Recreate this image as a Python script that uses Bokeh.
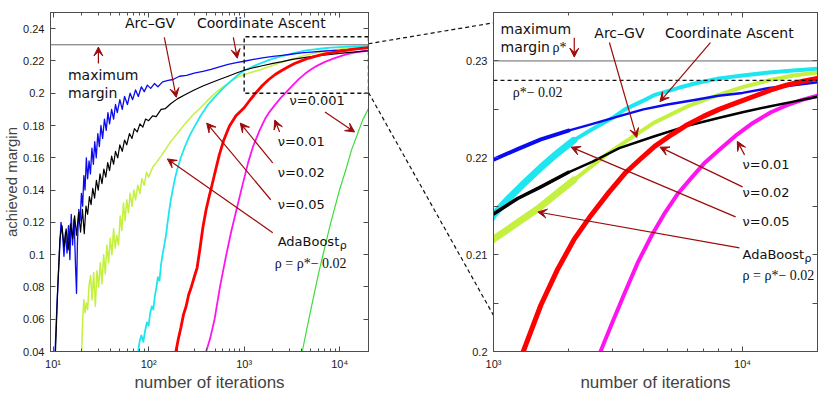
from bokeh.plotting import figure
from bokeh.layouts import row
from bokeh.models import (Range1d, LogAxis, LinearAxis, FixedTicker, CustomJSTickFormatter,
                          Arrow, VeeHead, Label, Span)
from bokeh.embed import file_html
from bokeh.resources import INLINE

# ---------------- data (iterations, achieved margin) ----------------
blue_n = [10.5, 11.0, 11.6, 12.1, 12.6, 13.0, 13.5, 14.0, 14.5, 15.0, 15.5, 16.0, 16.6, 17.2, 17.6,
          18.0, 18.6, 19.2, 19.8, 20.4, 21.0, 21.6, 22.3, 23.0, 23.8, 24.6, 25.5, 26.4, 27.3, 28.3,
          29.4, 30.5, 31.7, 33.0, 34.5, 36.0, 37.5, 39.0, 41, 43, 45, 47, 50, 53, 56, 60, 64, 68,
          73, 78, 84, 90, 97, 105, 115, 125, 140, 160, 180, 210, 250, 300, 370, 450, 550, 680, 830,
          1000, 1250, 1550, 2000, 2500, 3200, 4000, 5000, 6500, 8000, 10000, 12800, 16000, 20000]
blue_m = [0.040, 0.070, 0.098, 0.120, 0.112, 0.099, 0.114, 0.101, 0.118, 0.097, 0.125, 0.106, 0.122,
          0.092, 0.076, 0.108, 0.128, 0.121, 0.138, 0.130, 0.149, 0.140, 0.160, 0.147, 0.158, 0.150,
          0.166, 0.156, 0.170, 0.160, 0.175, 0.167, 0.180, 0.172, 0.184, 0.177, 0.188, 0.181, 0.190,
          0.184, 0.193, 0.188, 0.196, 0.190, 0.198, 0.193, 0.200, 0.196, 0.202, 0.198, 0.204, 0.201,
          0.205, 0.203, 0.206, 0.204, 0.207, 0.208, 0.2085, 0.2105, 0.211, 0.2125, 0.2135, 0.2148,
          0.2163, 0.2178, 0.2190, 0.2198, 0.2209, 0.2219, 0.2228, 0.2235, 0.2243, 0.2250, 0.2255,
          0.2260, 0.2264, 0.2267, 0.2272, 0.2275, 0.2278]

black_n = [10.6, 11.2, 11.8, 12.4, 13.0, 13.7, 14.4, 15.2, 16.0, 16.8, 17.6, 18.5, 19.4, 20.3, 21.2,
           22.1, 23.0, 24.0, 25.0, 26.0, 27.2, 28.4, 29.7, 31.0, 32.5, 34.0, 35.6, 37.3, 39, 41, 43,
           45, 47.5, 50, 53, 56, 59, 63, 67, 71, 76, 81, 87, 93, 100, 110, 120, 135, 150, 170, 200,
           240, 300, 370, 450, 550, 680, 830, 1000, 1250, 1550, 2000, 2500, 3200, 4400, 6000, 8000,
           10000, 12800, 16000, 20000]
black_m = [0.040, 0.080, 0.110, 0.118, 0.105, 0.116, 0.103, 0.119, 0.110, 0.124, 0.112, 0.126, 0.114,
           0.128, 0.113, 0.130, 0.125, 0.136, 0.131, 0.141, 0.135, 0.146, 0.140, 0.150, 0.144, 0.153,
           0.148, 0.157, 0.152, 0.161, 0.156, 0.164, 0.160, 0.168, 0.164, 0.171, 0.168, 0.175, 0.172,
           0.178, 0.176, 0.181, 0.179, 0.184, 0.183, 0.186, 0.1855, 0.190, 0.1905, 0.1935, 0.1965,
           0.1990, 0.2020, 0.2045, 0.2065, 0.2085, 0.2105, 0.2125, 0.2142, 0.2158, 0.2170, 0.2185,
           0.2196, 0.2210, 0.2222, 0.2233, 0.2241, 0.2247, 0.2253, 0.2258, 0.2263]

yg_n = [19.9, 20.5, 21.0, 21.6, 22.3, 23.0, 23.8, 24.7, 25.6, 26.6, 27.7, 28.8, 30.0, 31.2, 32.5,
        33.8, 35.2, 36.6, 38.1, 39.7, 41.3, 43.0, 44.7, 46.5, 48.4, 50.4, 52.4, 54.5, 56.7, 59.0,
        61.5, 64, 67, 70, 73, 77, 81, 85, 90, 95, 100, 110, 120, 135, 150, 170, 200, 240, 290, 350,
        430, 530, 650, 800, 1000, 1250, 1500, 2100, 2900, 4400, 6000, 8000, 10000, 12800, 16000, 20000]
yg_m = [0.040, 0.062, 0.072, 0.064, 0.070, 0.066, 0.081, 0.087, 0.072, 0.089, 0.068, 0.090, 0.080,
        0.095, 0.082, 0.100, 0.088, 0.106, 0.095, 0.110, 0.100, 0.116, 0.104, 0.112, 0.106, 0.124,
        0.115, 0.132, 0.121, 0.134, 0.126, 0.138, 0.130, 0.140, 0.134, 0.143, 0.138, 0.147, 0.143,
        0.151, 0.148, 0.154, 0.157, 0.161, 0.165, 0.170, 0.175, 0.181, 0.1865, 0.191, 0.1965, 0.2015,
        0.2055, 0.2090, 0.2116, 0.2133, 0.2147, 0.2177, 0.2205, 0.2236, 0.2253, 0.2265, 0.2273,
        0.2280, 0.2285, 0.2288]

cyan_n = [77.6, 81, 84, 88, 92, 96, 100, 104, 108, 112, 116, 120, 125, 130, 135, 140, 146, 152, 158,
          164, 171, 180, 190, 200, 217, 240, 270, 300, 350, 420, 500, 600, 711, 850, 1000, 1150, 1330,
          1550, 1810, 2100, 2470, 3000, 3370, 4000, 4450, 5500, 6500, 8050, 10000, 12800, 16000, 20000]
cyan_m = [0.040, 0.047, 0.050, 0.046, 0.053, 0.058, 0.056, 0.064, 0.068, 0.066, 0.074, 0.079, 0.086,
          0.084, 0.094, 0.100, 0.106, 0.112, 0.120, 0.127, 0.134, 0.141, 0.148, 0.153, 0.160, 0.167,
          0.174, 0.179, 0.186, 0.193, 0.198, 0.203, 0.207, 0.211, 0.2141, 0.2158, 0.2174, 0.2190,
          0.2205, 0.2218, 0.2229, 0.2241, 0.2250, 0.2259, 0.2265, 0.2272, 0.2277, 0.2282, 0.2285,
          0.2288, 0.2290, 0.2292]

red_n = [193, 205, 218, 232, 247, 262, 280, 300, 322, 345, 370, 400, 430, 460, 500, 550, 608, 700,
         820, 1000, 1150, 1330, 1550, 1810, 2110, 2470, 2900, 3370, 3900, 4450, 5200, 5900, 7000,
         8050, 9500, 11000, 13000, 15000, 17500, 20000]
red_m = [0.040, 0.048, 0.055, 0.063, 0.068, 0.075, 0.080, 0.086, 0.092, 0.104, 0.117, 0.128, 0.136,
         0.143, 0.152, 0.162, 0.1705, 0.1795, 0.1860, 0.1910, 0.1958, 0.2003, 0.2048, 0.2085, 0.2116,
         0.2141, 0.2164, 0.2184, 0.2199, 0.2212, 0.2224, 0.2233, 0.2243, 0.2250, 0.2257, 0.2263,
         0.2270, 0.2275, 0.2279, 0.2282]

mag_n = [400, 440, 490, 560, 640, 730, 832, 950, 1100, 1238, 1450, 1650, 1820, 2100, 2400, 2710,
         3000, 3370, 3800, 4320, 4900, 5500, 6270, 7000, 8050, 9500, 11000, 13000, 15000, 17500, 20000]
mag_m = [0.040, 0.048, 0.060, 0.0805, 0.098, 0.114, 0.128, 0.142, 0.157, 0.167, 0.177, 0.184, 0.188,
         0.1928, 0.1970, 0.2002, 0.2030, 0.2061, 0.2092, 0.2120, 0.2144, 0.2163, 0.2180, 0.2194,
         0.2208, 0.2224, 0.2236, 0.2247, 0.2254, 0.2260, 0.2264]

green_n = [4055, 4600, 5200, 6030, 7000, 8000, 8950, 10000, 11500, 13300, 15500, 17500, 20000]
green_m = [0.040, 0.056, 0.071, 0.0888, 0.105, 0.119, 0.1299, 0.1405, 0.152, 0.1649, 0.1755, 0.1838, 0.1905]

max_margin = 0.23
target_margin = 0.228

left_yticks = [0.04, 0.06, 0.08, 0.10, 0.12, 0.14, 0.16, 0.18, 0.20, 0.22, 0.24]
right_yticks = [0.20, 0.21, 0.22, 0.23]
right_yminor = [0.205, 0.215, 0.225]
left_xticks = [10, 100, 1000, 10000]
right_xticks = [1000, 10000]
xminor = [m * 10 ** e for e in range(1, 5) for m in range(2, 10)]

# zoom window shown on the right
zoom_x = (1000, 20000)
zoom_y = (0.20, 0.235)
left_xr = (9.4, 20000)
left_yr = (0.04, 0.25)

# ---------------- layout geometry ----------------
H = 394
TOP_B, BOT_B = 12, 42
LW, L_LEFT_B, L_RIGHT_B = 375, 45, 7
RW, R_LEFT_B, R_RIGHT_B = 447, 118, 5
GAP = L_RIGHT_B + R_LEFT_B  # width of the strip between the two frames

# ---------------- style ----------------
SANS = "DejaVu Sans"
AXF = "Liberation Sans"
SERIF = "Liberation Serif"
AX = "#4d4d4d"
DR = "#9c0b0b"
C_BLUE = "#0b0bf0"
C_BLACK = "#000000"
C_YG = "#c4f040"
C_CYAN = "#1ee6f0"
C_RED = "#ff0000"
C_MAG = "#ff14f0"
C_GREEN = "#3ddc3d"

log_fmt = CustomJSTickFormatter(code="""
const s = {'0':'\u2070','1':'\u00b9','2':'\u00b2','3':'\u00b3','4':'\u2074','5':'\u2075'};
const e = Math.round(Math.log10(tick)).toString();
let out = '10';
for (const c of e) out += s[c];
return out;
""")
num_fmt = CustomJSTickFormatter(code="return (Math.round(tick*1000)/1000).toString();")


def blank():
    return CustomJSTickFormatter(code="return '';")


def style_axis(ax, tin=5, minor_in=3):
    ax.axis_line_color = AX
    ax.major_tick_in = tin
    ax.major_tick_out = 0
    ax.minor_tick_in = minor_in
    ax.minor_tick_out = 0
    ax.major_tick_line_color = AX
    ax.minor_tick_line_color = AX
    ax.major_label_text_font = AXF
    ax.major_label_text_font_size = "11px"
    ax.major_label_text_color = "#1a1a1a"


def make_fig(width, xr, yr, xticks, yticks, yminor, mbl, mbr, ylabel, ymin_in, **kw):
    p = figure(width=width, height=H, x_axis_type="log", x_range=Range1d(*xr),
               y_range=Range1d(*yr), output_backend="svg", toolbar_location=None,
               min_border_left=mbl, min_border_right=mbr, min_border_top=TOP_B,
               min_border_bottom=BOT_B, **kw)
    p.xgrid.visible = False
    p.ygrid.visible = False
    p.outline_line_color = AX
    p.background_fill_color = "white"
    xa = p.xaxis[0]
    ya = p.yaxis[0]
    xa.ticker = FixedTicker(ticks=xticks, minor_ticks=xminor)
    xa.formatter = log_fmt
    ya.ticker = FixedTicker(ticks=yticks, minor_ticks=yminor)
    ya.formatter = num_fmt
    style_axis(xa)
    style_axis(ya, minor_in=ymin_in)
    xa.major_label_standoff = 6
    xa.axis_label = "number of iterations"
    xa.axis_label_text_font = AXF
    xa.axis_label_text_font_size = "17px"
    xa.axis_label_text_font_style = "normal"
    xa.axis_label_standoff = 0
    ya.major_label_standoff = 6
    if ylabel:
        ya.axis_label = ylabel
        ya.axis_label_text_font = AXF
        ya.axis_label_text_font_size = "15px"
        ya.axis_label_text_font_style = "normal"
        ya.axis_label_standoff = 0
    top = LogAxis(ticker=FixedTicker(ticks=xticks, minor_ticks=xminor), formatter=blank())
    rgt = LinearAxis(ticker=FixedTicker(ticks=yticks, minor_ticks=yminor), formatter=blank())
    style_axis(top)
    style_axis(rgt, minor_in=ymin_in)
    top.major_label_standoff = 0
    rgt.major_label_standoff = 0
    p.add_layout(top, "above")
    p.add_layout(rgt, "right")
    return p


def label(p, x, y, text, font=SANS, size="13px"):
    p.add_layout(Label(x=x, y=y, text=text, text_font=font, text_font_size=size,
                       text_baseline="middle", text_align="left", text_color="#111111"))


def arrow(p, x0, y0, x1, y1):
    p.add_layout(Arrow(end=VeeHead(size=9, fill_color=DR, line_color=DR, line_width=1),
                       x_start=x0, y_start=y0, x_end=x1, y_end=y1,
                       line_color=DR, line_width=1.2))


def rline(p, ns, ms, color, width, upto=None):
    if upto is not None:
        k = [i for i, v in enumerate(ns) if v <= upto]
        ns = [ns[i] for i in k]
        ms = [ms[i] for i in k]
    p.line(ns, ms, color=color, line_width=width, line_join="round", line_cap="round")


# ---------------- left panel ----------------
L = make_fig(LW, left_xr, left_yr, left_xticks, left_yticks, [], L_LEFT_B, L_RIGHT_B,
             "achieved margin", 3)
L.border_fill_color = "white"
L.add_layout(Span(location=max_margin, dimension="width", line_color="#666666", line_width=1))
rline(L, green_n, green_m, C_GREEN, 1.2)
rline(L, mag_n, mag_m, C_MAG, 1.8)
rline(L, yg_n, yg_m, C_YG, 1.5)
rline(L, cyan_n, cyan_m, C_CYAN, 1.8)
rline(L, blue_n, blue_m, C_BLUE, 1.3)
rline(L, black_n, black_m, C_BLACK, 1.2)
rline(L, red_n, red_m, C_RED, 2.8)
# zoom box
L.line([zoom_x[1], zoom_x[0], zoom_x[0], zoom_x[1], zoom_x[1]],
       [zoom_y[1], zoom_y[1], zoom_y[0], zoom_y[0], zoom_y[1]],
       color="#111111", line_width=1.4, line_dash="4 3")

label(L, 56.6, 0.2433, "Arc\u2013GV", size="14px")
label(L, 320, 0.2433, "Coordinate Ascent", size="14px")
label(L, 14.3, 0.2112, "maximum", size="14px")
label(L, 14.3, 0.2000, "margin", size="14px")
label(L, 2980, 0.1957, "\u03bd=0.001")
label(L, 2240, 0.1698, "\u03bd=0.01")
label(L, 2240, 0.1507, "\u03bd=0.02")
label(L, 2240, 0.1309, "\u03bd=0.05")
label(L, 2240, 0.1081, "AdaBoost")
L.add_layout(Label(x=2240, y=0.1081, text="\u03c1", text_font=SANS, text_font_size="11px",
                   x_offset=62, y_offset=-4, text_baseline="middle", text_color="#111111"))
label(L, 2090, 0.0945, "\u03c1 = \u03c1*\u2212 0.02", font=SERIF, size="14px")

arrow(L, 29.8, 0.2184, 29.8, 0.2286)
arrow(L, 146, 0.2346, 194.6, 0.1975)
arrow(L, 770, 0.2346, 847, 0.2217)
arrow(L, 7000, 0.1883, 14300, 0.1760)
arrow(L, 2350, 0.1760, 2090, 0.1834)
arrow(L, 1990, 0.1568, 910, 0.1815)
arrow(L, 1897, 0.1340, 405, 0.1815)
arrow(L, 1990, 0.1136, 157, 0.1593)

# ---------------- connector strip (transparent, overlaps the borders) ----------------
frame_h = H - TOP_B - BOT_B


def left_py(v):
    return TOP_B + (left_yr[1] - v) / (left_yr[1] - left_yr[0]) * frame_h


M = figure(width=GAP, height=H, x_range=Range1d(0, 1), y_range=Range1d(H, 0),
           output_backend="svg", toolbar_location=None, x_axis_location=None,
           y_axis_location=None, min_border=0, margin=(0, -R_LEFT_B, 0, -L_RIGHT_B))
M.outline_line_color = None
M.background_fill_color = None
M.border_fill_color = None
M.xgrid.visible = False
M.ygrid.visible = False
M.line([0, 1], [left_py(zoom_y[1]), TOP_B], color="#111111", line_width=1.2, line_dash="4 3")
M.line([0, 1], [left_py(zoom_y[0]), H - BOT_B], color="#111111", line_width=1.2, line_dash="4 3")

# ---------------- right panel ----------------
R = make_fig(RW, zoom_x, zoom_y, right_xticks, right_yticks, right_yminor, R_LEFT_B, R_RIGHT_B,
             None, 5)
R.border_fill_color = None
R.add_layout(Span(location=max_margin, dimension="width", line_color="#666666", line_width=1))
R.add_layout(Span(location=target_margin, dimension="width", line_color="#111111",
                  line_width=1.2, line_dash="4 3"))
rline(R, mag_n, mag_m, C_MAG, 4)
rline(R, cyan_n, cyan_m, C_CYAN, 4)
rline(R, cyan_n, cyan_m, C_CYAN, 7, upto=2100)
rline(R, yg_n, yg_m, C_YG, 4)
rline(R, yg_n, yg_m, C_YG, 7, upto=2100)
rline(R, blue_n, blue_m, C_BLUE, 2.5)
rline(R, blue_n, blue_m, C_BLUE, 4, upto=2000)
rline(R, black_n, black_m, C_BLACK, 2.5)
rline(R, black_n, black_m, C_BLACK, 3.5, upto=2000)
rline(R, red_n, red_m, C_RED, 5)

label(R, 1067, 0.2333, "maximum", size="14px")
label(R, 1067, 0.2314, "margin", size="14px")
label(R, 1067, 0.2314, "\u03c1*", font=SERIF, size="14px")
R.renderers  # no-op
R.center[-1].x_offset = 52
label(R, 2540, 0.2329, "Arc\u2013GV", size="14px")
label(R, 4880, 0.2329, "Coordinate Ascent", size="14px")
label(R, 1194, 0.2267, "\u03c1*\u2212 0.02", font=SERIF, size="14px")
label(R, 10000, 0.2193, "\u03bd=0.01")
label(R, 10000, 0.2164, "\u03bd=0.02")
label(R, 10000, 0.2134, "\u03bd=0.05")
label(R, 10000, 0.2100, "AdaBoost")
R.add_layout(Label(x=10000, y=0.2100, text="\u03c1", text_font=SANS, text_font_size="11px",
                   x_offset=62, y_offset=-4, text_baseline="middle", text_color="#111111"))
label(R, 10000, 0.2078, "\u03c1 = \u03c1*\u2212 0.02", font=SERIF, size="14px")

arrow(R, 2110, 0.2324, 2110, 0.2304)
arrow(R, 2920, 0.2319, 3760, 0.2221)
arrow(R, 7430, 0.2319, 4660, 0.2258)
arrow(R, 10190, 0.2203, 9530, 0.2217)
arrow(R, 10000, 0.2170, 4660, 0.2211)
arrow(R, 9380, 0.2139, 2050, 0.2211)
arrow(R, 9720, 0.2107, 1507, 0.2144)

layout = row(L, M, R)
open("out.html", "w").write(file_html(layout, INLINE))
